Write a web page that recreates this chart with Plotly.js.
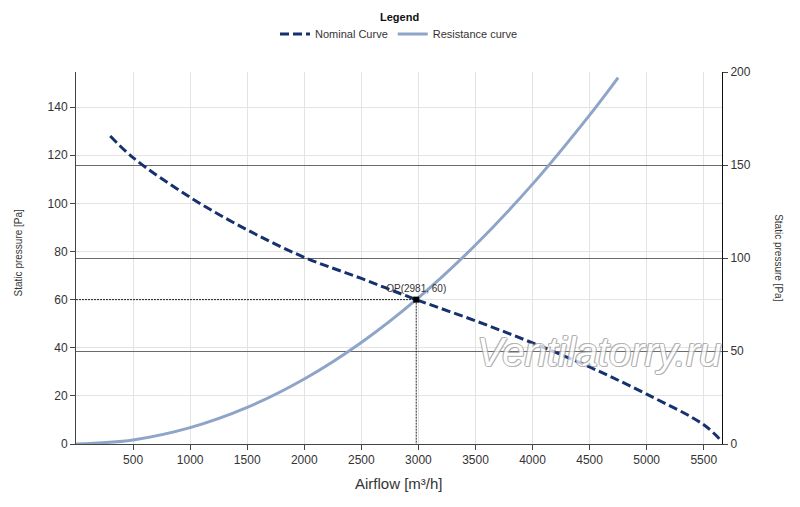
<!DOCTYPE html>
<html>
<head>
<meta charset="utf-8">
<script src="https://cdn.plot.ly/plotly-3.0.1.min.js"></script>
<style>html,body{margin:0;padding:0;background:#fff;}#chart{width:800px;height:507px;}</style>
</head>
<body>
<div id="chart"></div>
<script>
// Data
const nominalX = [300, 500, 1000, 1500, 2000, 2500, 2981, 3500, 4000, 4500, 5000, 5500, 5660];
const nominalY = [128, 119, 102.5, 89, 77.6, 68.8, 60, 51.2, 42, 32, 20.7, 8, 1];

const resistanceX = [0, 500, 1000, 1500, 2000, 2500, 2981, 3500, 4000, 4500, 4750];
const resistanceY = [0, 1.7, 6.8, 15.2, 27, 42.2, 60, 82.7, 108, 136.7, 152.3];

const opX = [2981];
const opY = [60];
const opLabel = 'OP(2981, 60)';

const xTicks = [500, 1000, 1500, 2000, 2500, 3000, 3500, 4000, 4500, 5000, 5500];
const yLeftTicks = [0, 20, 40, 60, 80, 100, 120, 140];
const yRightTicks = [0, 50, 100, 150, 200];

const FONT = 'Liberation Sans Narrow, Liberation Sans, Arial, sans-serif';
const SANS = 'Liberation Sans, Arial, sans-serif';
const TXT = '#333333';

const traces = [
  {
    x: nominalX, y: nominalY, name: 'Nominal Curve', type: 'scatter', mode: 'lines',
    line: {color: '#15316f', width: 3, dash: '9px,4px', shape: 'spline'}
  },
  {
    x: resistanceX, y: resistanceY, name: 'Resistance curve', type: 'scatter', mode: 'lines',
    line: {color: '#8ea5c8', width: 3, shape: 'spline'}
  },
  {
    x: [0, opX[0]], y: [opY[0], opY[0]], mode: 'lines', showlegend: false, hoverinfo: 'skip',
    line: {color: '#222', width: 1, dash: '2px,1px'}
  },
  {
    x: [opX[0], opX[0]], y: [opY[0], 0], mode: 'lines', showlegend: false, hoverinfo: 'skip',
    line: {color: '#222', width: 1, dash: '2px,1px'}
  },
  {
    x: opX, y: opY, mode: 'markers+text', showlegend: false, text: [opLabel],
    textposition: 'top center', textfont: {family: SANS, size: 10, color: TXT},
    marker: {symbol: 'square', size: 6, color: '#000'}
  },
  {
    x: [0], y: [0], yaxis: 'y2', mode: 'markers', showlegend: false, hoverinfo: 'skip',
    marker: {opacity: 0}
  }
];

const layout = {
  width: 800, height: 507,
  margin: {l: 76, r: 78, t: 72, b: 63, autoexpand: false},
  paper_bgcolor: '#fff', plot_bgcolor: '#fff',
  font: {family: FONT, size: 12, color: TXT},
  showlegend: true,
  legend: {
    orientation: 'h', x: 0.5, xanchor: 'center', y: 1.102, yanchor: 'middle',
    font: {family: SANS, size: 11, color: TXT},
    itemwidth: 30, tracegroupgap: 0
  },
  xaxis: {
    range: [0, 5660], tickvals: xTicks, ticktext: xTicks.map(String),
    showgrid: true, gridcolor: '#e3e3e3', gridwidth: 1,
    showline: true, linecolor: '#444', linewidth: 1,
    ticks: 'outside', ticklen: 5, tickcolor: '#444',
    tickfont: {family: FONT, size: 12, color: TXT},
    zeroline: false, fixedrange: true
  },
  yaxis: {
    range: [0, 154.6], tickvals: yLeftTicks, ticktext: yLeftTicks.map(String),
    showgrid: true, gridcolor: '#e3e3e3', gridwidth: 1,
    showline: true, linecolor: '#444', linewidth: 1,
    ticks: 'outside', ticklen: 5, tickcolor: '#444',
    tickfont: {family: FONT, size: 12, color: TXT},
    zeroline: false, fixedrange: true
  },
  yaxis2: {
    overlaying: 'y', side: 'right', range: [0, 200],
    tickvals: yRightTicks, ticktext: yRightTicks.map(String),
    showgrid: true, gridcolor: '#6a6a6a', gridwidth: 1,
    showline: true, linecolor: '#111', linewidth: 1,
    ticks: 'outside', ticklen: 5, tickcolor: '#444',
    tickfont: {family: FONT, size: 12, color: TXT},
    zeroline: false, fixedrange: true
  },
  annotations: [
    {text: '<b>Legend</b>', xref: 'paper', yref: 'paper', x: 0.5, y: 1.148,
     xanchor: 'center', yanchor: 'middle', showarrow: false,
     font: {family: SANS, size: 11, color: '#111'}},
    {text: 'Airflow [m³/h]', xref: 'paper', yref: 'paper', x: 0.5, y: -0.105,
     xanchor: 'center', yanchor: 'middle', showarrow: false,
     font: {family: SANS, size: 15, color: TXT}},
    {text: 'Static pressure [Pa]', xref: 'paper', yref: 'paper', x: -0.0898, y: 0.515,
     xanchor: 'center', yanchor: 'middle', showarrow: false, textangle: -90,
     font: {family: SANS, size: 10, color: TXT}},
    {text: 'Static pressure [Pa]', xref: 'paper', yref: 'paper', x: 1.088, y: 0.5,
     xanchor: 'center', yanchor: 'middle', showarrow: false, textangle: 90,
     font: {family: SANS, size: 10, color: TXT}},
    {text: 'Ventilatorry.ru', xref: 'paper', yref: 'paper', x: 0.811, y: 0.247,
     xanchor: 'center', yanchor: 'middle', showarrow: false, opacity: 0.75,
     font: {family: SANS, size: 40, style: 'italic',
            color: '#ffffff',
            shadow: '1px 0 0 #9a9a9a, -1px 0 0 #9a9a9a, 0 1px 0 #9a9a9a, 0 -1px 0 #9a9a9a, 1px 1px 0 #9a9a9a, -1px -1px 0 #9a9a9a'}}
  ]
};

Plotly.newPlot('chart', traces, layout, {staticPlot: true, displayModeBar: false});
</script>
</body>
</html>
